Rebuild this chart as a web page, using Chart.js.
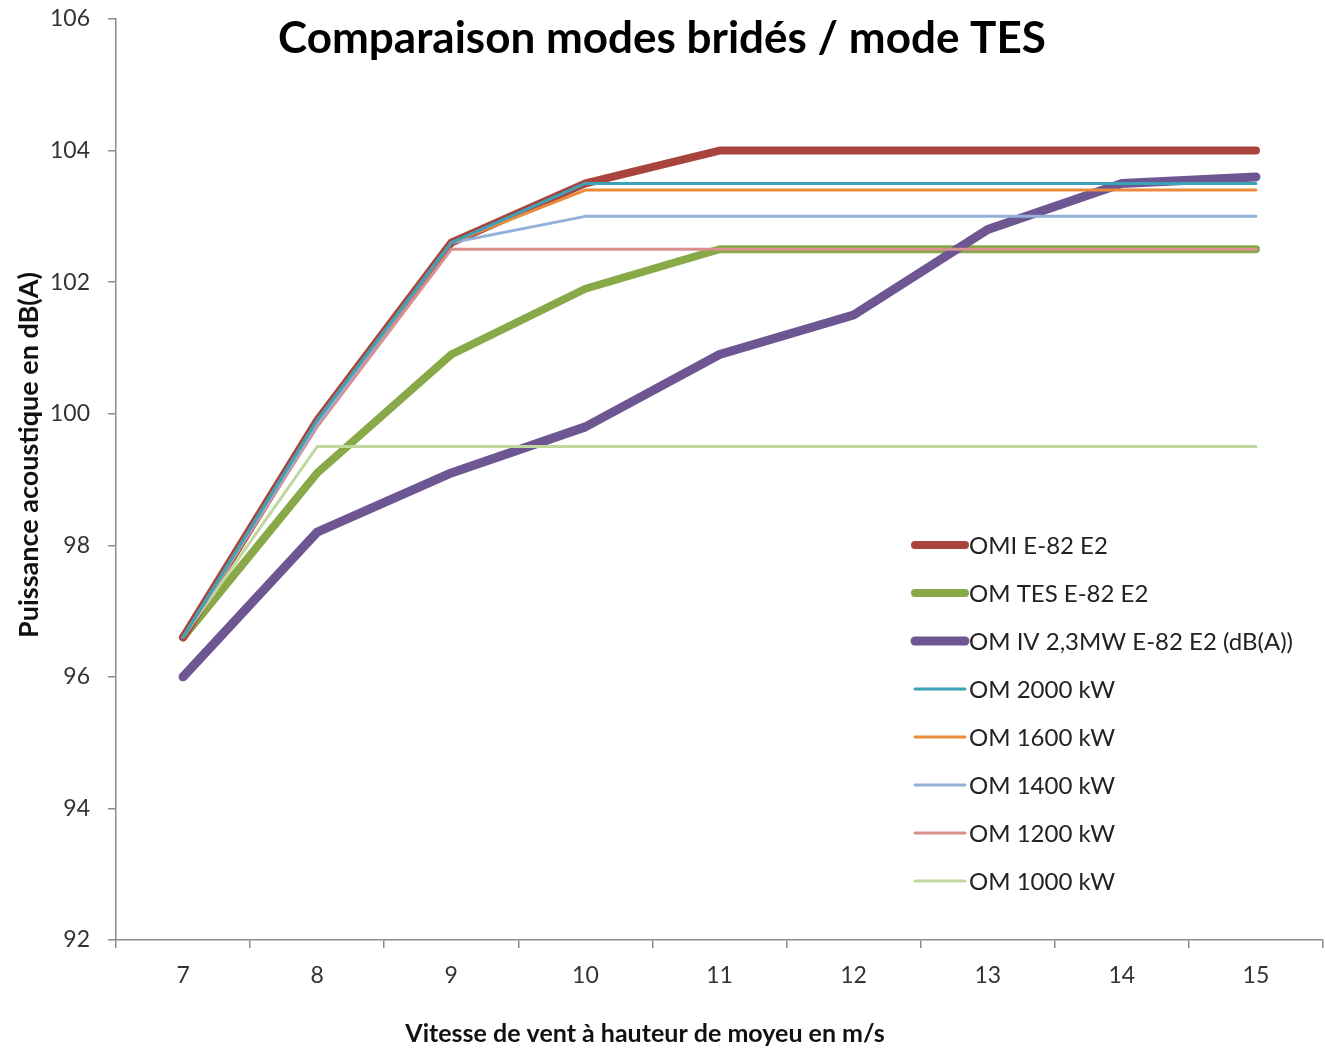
<!DOCTYPE html>
<html>
<head>
<meta charset="utf-8">
<script src="https://cdn.jsdelivr.net/npm/chart.js@4/dist/chart.umd.min.js"></script>
<style>
  html, body { margin: 0; padding: 0; background: #fff; }
  canvas { display: block; }
</style>
</head>
<body>
<canvas id="chart" width="1325" height="1050"></canvas>
<script>
// ------------------------------------------------------------
// Données
// ------------------------------------------------------------
const vitesses = ['7', '8', '9', '10', '11', '12', '13', '14', '15'];
const yTicks   = [92, 94, 96, 98, 100, 102, 104, 106];

const omiE82   = [96.6, 99.9, 102.6, 103.5, 104.0, 104.0, 104.0, 104.0, 104.0];
const omTes    = [96.6, 99.1, 100.9, 101.9, 102.5, 102.5, 102.5, 102.5, 102.5];
const omIv     = [96.0, 98.2, 99.1, 99.8, 100.9, 101.5, 102.8, 103.5, 103.6];
const om2000   = [96.6, 99.9, 102.6, 103.5, 103.5, 103.5, 103.5, 103.5, 103.5];
const om1600   = [96.6, 99.9, 102.6, 103.4, 103.4, 103.4, 103.4, 103.4, 103.4];
const om1400   = [96.6, 99.85, 102.6, 103.0, 103.0, 103.0, 103.0, 103.0, 103.0];
const om1200   = [96.6, 99.8, 102.5, 102.5, 102.5, 102.5, 102.5, 102.5, 102.5];
const om1000   = [96.6, 99.5, 99.5, 99.5, 99.5, 99.5, 99.5, 99.5, 99.5];

const FONT = 'Lato, "Open Sans", sans-serif';
const AXIS = '#8c8c8c';

const serie = (label, data, color, width, order) => ({
  label, data,
  borderColor: color, backgroundColor: color,
  borderWidth: width, pointRadius: 0, tension: 0,
  borderCapStyle: 'round', borderJoinStyle: 'round',
  order,
});

// titres + légende dessinés à la main (placés comme dans Excel)
const overlay = {
  id: 'overlay',
  afterDraw(chart) {
    const ctx = chart.ctx;
    ctx.save();
    ctx.textAlign = 'center';
    ctx.textBaseline = 'middle';
    ctx.fillStyle = '#000';
    ctx.font = 'bold 44px ' + FONT;
    ctx.fillText('Comparaison modes bridés / mode TES', 662, 39);

    ctx.fillStyle = '#111';
    ctx.font = 'bold 25px ' + FONT;
    ctx.fillText('Vitesse de vent à hauteur de moyeu en m/s', 645, 1034);

    ctx.save();
    ctx.translate(29, 455);
    ctx.rotate(-Math.PI / 2);
    ctx.font = 'bold 27px ' + FONT;
    ctx.fillText('Puissance acoustique en dB(A)', 0, 0);
    ctx.restore();

    ctx.font = '24px ' + FONT;
    ctx.textAlign = 'left';
    ctx.fillStyle = '#222';
    chart.data.datasets.forEach((ds, i) => {
      const y = 545 + i * 48;
      ctx.strokeStyle = ds.borderColor;
      ctx.lineWidth = ds.borderWidth;
      ctx.lineCap = 'round';
      ctx.beginPath();
      ctx.moveTo(915, y);
      ctx.lineTo(965, y);
      ctx.stroke();
      ctx.fillText(ds.label, 969, y + 1);
    });
    ctx.restore();
  },
};

new Chart(document.getElementById('chart'), {
  type: 'line',
  data: {
    labels: vitesses,
    datasets: [
      serie('OMI E-82 E2',                  omiE82, '#A8433E', 8, 2),
      serie('OM TES E-82 E2',               omTes,  '#87A948', 8, 2),
      serie('OM IV 2,3MW E-82 E2 (dB(A))',  omIv,   '#6E5692', 9, 1),
      serie('OM 2000 kW',                   om2000, '#3CA2B8', 3, 0),
      serie('OM 1600 kW',                   om1600, '#E98A3C', 3, 0),
      serie('OM 1400 kW',                   om1400, '#93B0D9', 3, 0),
      serie('OM 1200 kW',                   om1200, '#D9908F', 3, 0),
      serie('OM 1000 kW',                   om1000, '#C0D89E', 3, 0),
    ],
  },
  options: {
    responsive: false,
    animation: false,
    layout: { padding: { top: 19, right: 2, bottom: 0, left: 0 } },
    plugins: { legend: { display: false }, title: { display: false }, tooltip: { enabled: false } },
    scales: {
      x: {
        type: 'category',
        offset: true,
        grid: { drawOnChartArea: false, drawTicks: true, tickLength: 8, color: AXIS, lineWidth: 1.5, offset: true },
        border: { color: AXIS, width: 1.5 },
        ticks: { color: '#333', font: { family: FONT, size: 23 }, padding: 14, maxRotation: 0 },
        afterFit: s => { s.height = 110; s.paddingLeft = 0; s.paddingRight = 0; },
      },
      y: {
        min: 92, max: 106,
        afterBuildTicks: s => { s.ticks = yTicks.map(v => ({ value: v })); },
        grid: { drawOnChartArea: false, drawTicks: true, tickLength: 8, color: AXIS, lineWidth: 1.5 },
        border: { color: AXIS, width: 1.5 },
        ticks: { color: '#333', font: { family: FONT, size: 23 }, padding: 18 },
        afterFit: s => { s.width = 116; s.paddingTop = 0; s.paddingBottom = 0; },
      },
    },
  },
  plugins: [overlay],
});
</script>
</body>
</html>
